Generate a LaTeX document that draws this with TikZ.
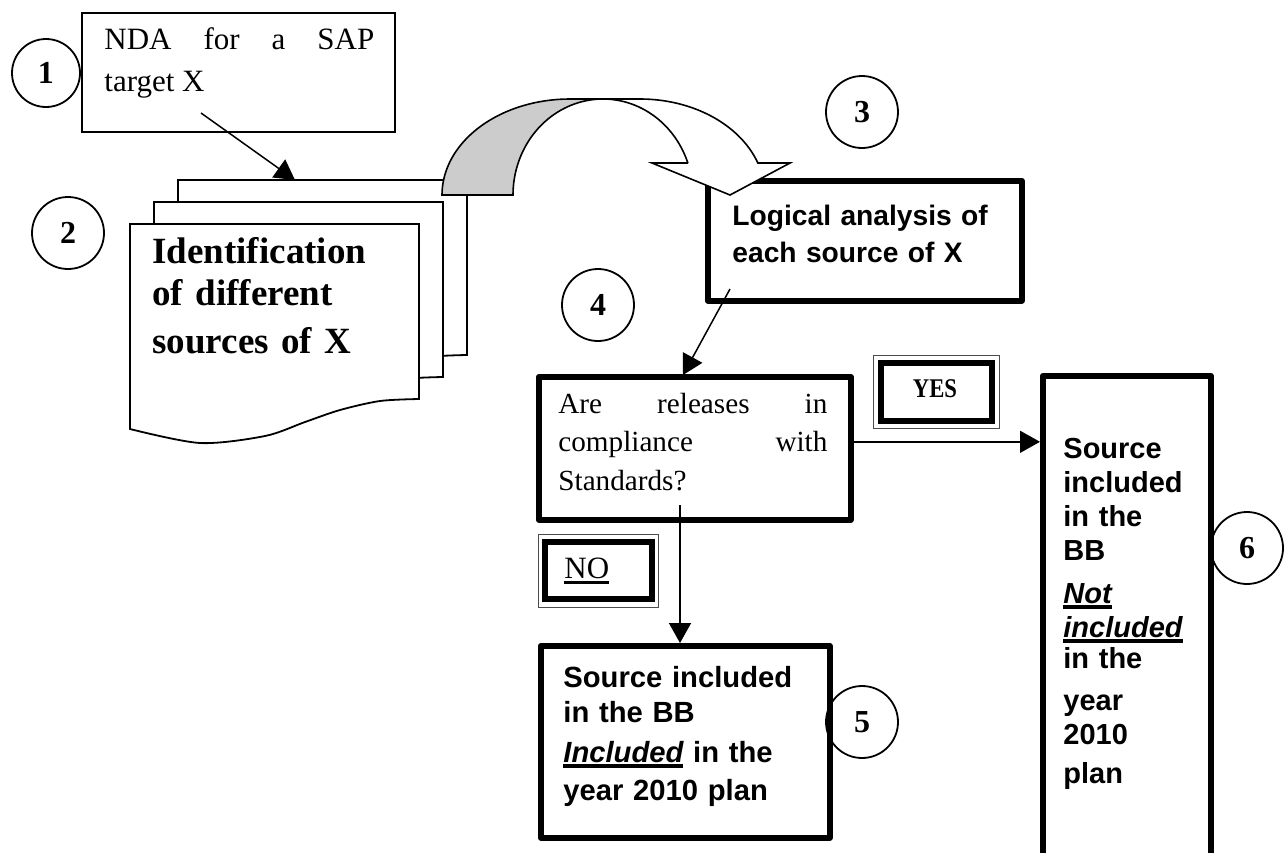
\documentclass[tikz,border=0pt]{standalone}
\usepackage{fontspec}
\setmainfont{Liberation Serif}
\setsansfont{Liberation Sans}
\usepackage{graphicx}
\usetikzlibrary{positioning,arrows.meta}

\newcommand{\undl}[2][1.3pt]{\leavevmode\setbox0\hbox{#2}\rlap{\rule[-3pt]{\wd0}{#1}}\box0\relax}

\tikzset{
  docpage/.pic={
    \filldraw[fill=white, line width=0.9pt] (0,0) -- (289,0) -- (289,175)
      -- plot[smooth] coordinates {(289,175) (250,177) (210,186) (175,198) (135,212) (70,219) (0,205)} -- cycle;
  }
}

\begin{document}
\begin{tikzpicture}[x=0.5pt, y=-0.5pt, every node/.style={inner sep=0pt},
  numcirc/.style={draw, circle, line width=0.9pt, minimum size=36pt, font=\fontsize{16}{16}\selectfont\bfseries},
  thinbox/.style={draw, line width=0.9pt, anchor=north west},
  heavybox/.style={draw, line width=2.8pt, line join=round, anchor=north west},
  tagbox/.style={draw, line width=3.2pt},
  tagframe/.style={draw, line width=0.5pt, black!70},
  flow/.style={-{Triangle[length=10pt,width=11pt]}, line width=0.75pt}]
  \useasboundingbox (0,0) rectangle (1285,852);

  % step 1
  \node[thinbox, minimum width=156.5pt, minimum height=59.5pt] (nda) at (81,12) {};
  \node[anchor=base west, text width=135pt, align=justify, font=\fontsize{15.5}{21}\selectfont] (ndatext) at (104,49) {NDA for a SAP\linebreak target X};
  \node[numcirc, minimum size=34pt] (n1) at (46,73) {1};

  % step 2: stack of pages
  \pic at (178,180) {docpage};
  \pic at (154,202) {docpage};
  \pic at (130,224) {docpage};
  \node[anchor=base west, text width=140pt, align=left, font=\fontsize{18.5}{21}\selectfont\bfseries] (srctext) at (152,263) {Identification\\of different\\[3.2pt]sources of X};
  \node[numcirc] (n2) at (68,233) {2};
  \coordinate (ndatail) at (201,113);
  \coordinate (stacktop) at (295,180);
  \draw[flow] (ndatail) -- (stacktop);

  % step 3
  \node[heavybox, minimum width=157pt, minimum height=60pt] (logic) at (705,178) {};
  \node[anchor=base west, text width=150pt, align=left, font=\sffamily\bfseries\fontsize{14.1}{18.5}\selectfont] (logictext) at (732,225) {Logical analysis of\\each source of X};
  \filldraw[fill=gray!40, line width=0.8pt] (442,195)
    -- plot[domain=180:270, samples=40] ({570+128*cos(\x)},{195+96*sin(\x)})
    -- plot[domain=270:180, samples=40] ({603+90*cos(\x)},{195+96*sin(\x)}) -- cycle;
  \filldraw[fill=white, line width=0.8pt] (603,99)
    -- plot[domain=270:340.53, samples=40] ({640+125*cos(\x)},{195+96*sin(\x)})
    -- (790,163) -- (730,195) -- (652,163) -- (688,163)
    -- plot[domain=340.53:270, samples=40] ({603+90*cos(\x)},{195+96*sin(\x)}) -- cycle;
  \node[numcirc] (n3) at (862,112) {3};

  % step 4
  \node[heavybox, minimum width=156pt, minimum height=71.5pt] (question) at (536,374) {};
  \node[anchor=base west, text width=134.5pt, align=justify, font=\fontsize{14.6}{19.25}\selectfont] (qtext) at (558,413) {Are releases in\linebreak compliance with\linebreak Standards?};
  \node[numcirc] (n4) at (598,305) {4};
  \coordinate (logictail) at (730,289);
  \coordinate (qhead) at (683,375);
  \draw[flow] (logictail) -- (qhead);

  % answers
  \node[tagbox, minimum width=55.5pt, minimum height=29pt] (yes) at (936.5,392) {};
  \node[tagframe, minimum width=63pt, minimum height=36.5pt] (yesframe) at (yes) {};
  \node[font=\fontsize{13.5}{13.5}\selectfont\bfseries] (yestext) at (935,389) {\scalebox{0.84}[1]{YES}};
  \node[tagbox, minimum width=53.5pt, minimum height=28.5pt] (no) at (598.5,570.5) {};
  \node[tagframe, minimum width=60pt, minimum height=36.5pt] (noframe) at (no) {};
  \node[anchor=base west, font=\fontsize{15.5}{15.5}\selectfont] (notext) at (564,578) {\undl[1.3pt]{NO}};

  % step 5 and 6
  \node[heavybox, minimum width=144.5pt, minimum height=96pt] (inbox) at (538,643) {};
  \node[anchor=base west, text width=135pt, align=left, font=\sffamily\bfseries\fontsize{14.6}{17.5}\selectfont] (intext) at (563,687) {Source included\\in the BB\\[2.5pt]\undl[2pt]{\itshape Included} in the\\[1.5pt]year 2010 plan};
  \node[numcirc] (n5) at (862,722) {5};

  \node[heavybox, minimum width=84pt, minimum height=243pt] (outbox) at (1040,373) {};
  \node[anchor=base west, text width=70pt, align=left, font=\sffamily\bfseries\fontsize{14.5}{17}\selectfont] (outtext) at (1063,458) {Source\\included\\in the\\BB\\[4.5pt]\undl[2pt]{\itshape Not}\\\undl[2pt]{\itshape included}\\[-1.5pt]in the\\[4pt]year\\2010\\[2.5pt]plan};
  \node[numcirc] (n6) at (1247,548) {6};

  \coordinate (qtail) at (680,505);
  \draw[flow] (qtail) -- (qtail |- inbox.north);
  \draw[flow] ([yshift=3.25pt]question.east) -- ([yshift=3.25pt]question.east -| outbox.west);
\end{tikzpicture}
\end{document}
